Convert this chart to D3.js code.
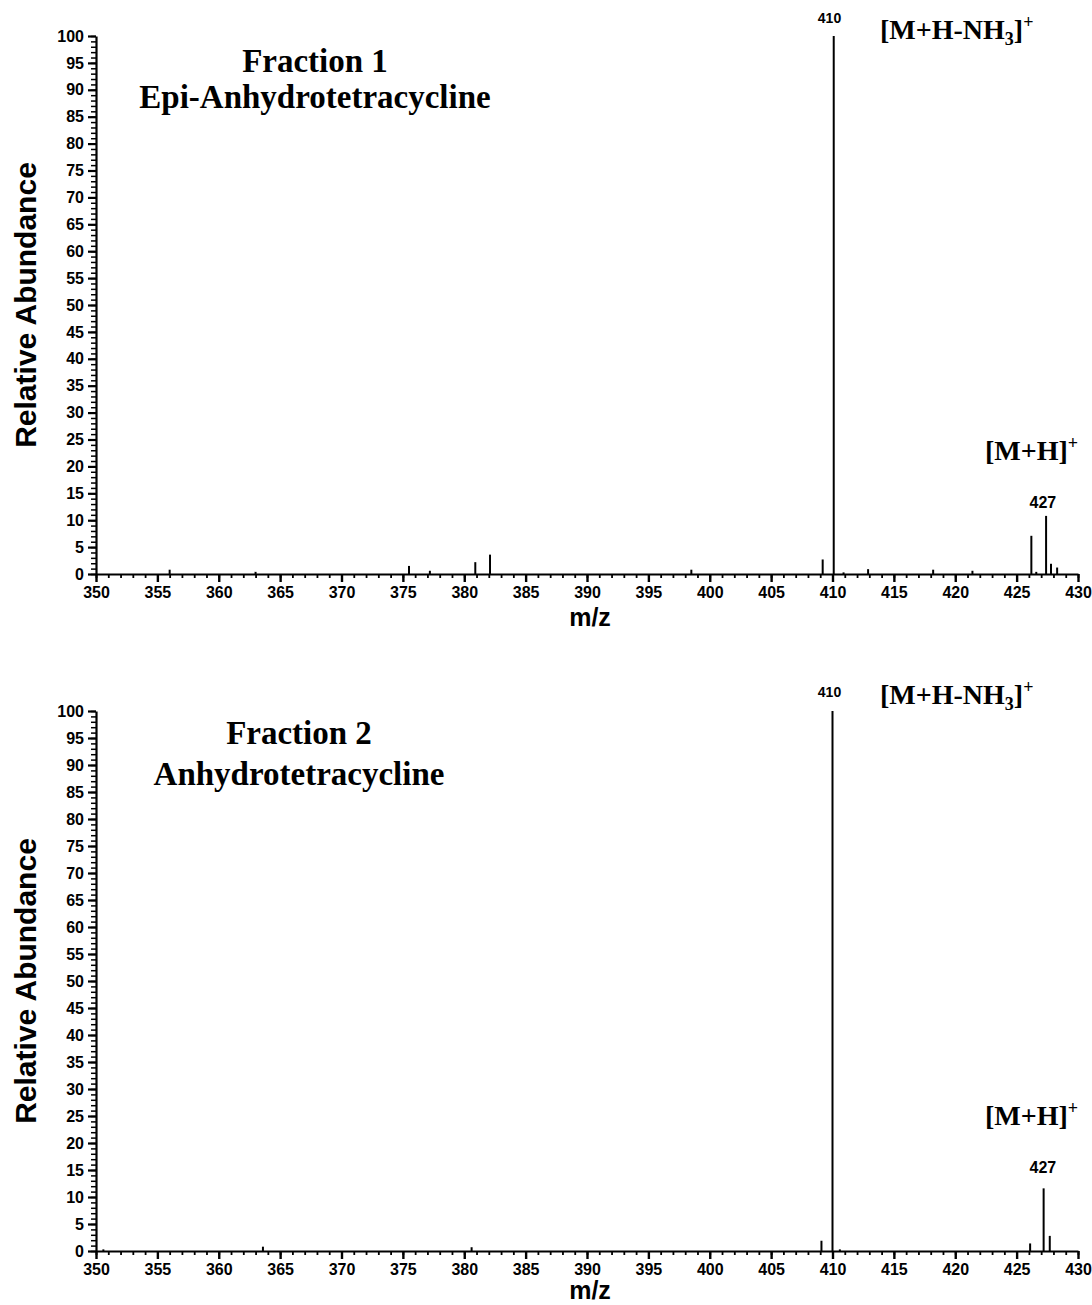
<html>
<head>
    <style>
        body {
            margin: 0;
            background: white;
        }
        .tick text {
            font-family: "Liberation Sans", Arial, sans-serif;
            font-weight: bold;
            font-size: 16px;
        }
        .axis path, .axis line {
            stroke: black;
        }
        .serif {
            font-family: "Liberation Serif", "Times New Roman", serif;
            font-weight: bold;
        }
        .sans {
            font-family: "Liberation Sans", Arial, sans-serif;
            font-weight: bold;
        }
    </style>
    <script src="https://cdn.jsdelivr.net/npm/d3@7"></script>
</head>
<body>
    <div class="mainView"></div>
</body>
<script>
    // peaks
    let frac1Mz    = [356.0, 363.0, 375.5, 377.2, 380.9, 382.1, 398.5, 409.2, 410.1, 410.9, 412.9, 418.2, 421.4, 426.2, 426.6, 427.4, 427.8, 428.3];
    let frac1Abund = [0.8,   0.4,   1.5,   0.6,   2.2,   3.6,   0.8,   2.7,   100,   0.3,   0.9,   0.8,   0.6,   7.1,   0.4,   10.8,  1.9,   1.2];

    let frac2Mz    = [350.6, 363.6, 380.6, 409.1, 410.0, 410.6, 426.1, 427.2, 427.7];
    let frac2Abund = [0.3,   0.8,   0.7,   1.9,   100,   0.3,   1.4,   11.6,  2.8];

    let xTicks = d3.range(350, 431, 5);
    let yTicks = d3.range(0, 101, 5);
    let xMinor = d3.range(350, 431, 1);
    let yMinor = d3.range(0, 101, 1);

    let titles1 = ["Fraction 1", "Epi-Anhydrotetracycline"];
    let titles2 = ["Fraction 2", "Anhydrotetracycline"];

    let width = 1092;
    let height = 1305;

    let svg = d3.select(".mainView")
        .append("svg")
        .attr("width", width)
        .attr("height", height);

    let xScale = d3.scaleLinear().domain([350, 430]).range([96, 1078]);

    function drawPanel(cfg) {
        let { mz, abund, top, bottom, titles, titleY, labels } = cfg;
        let yScale = d3.scaleLinear().domain([0, 100]).range([bottom, top]);
        let g = svg.append("g");

        // minor ticks first
        g.append("g")
            .attr("class", "axis")
            .attr("transform", "translate(0," + bottom + ")")
            .call(d3.axisBottom(xScale).tickValues(xMinor).tickSize(4).tickFormat(""))
            .call(a => a.select(".domain").remove())
            .selectAll("line").attr("stroke-width", 1.8);
        g.append("g")
            .attr("class", "axis")
            .attr("transform", "translate(" + xScale(350) + ",0)")
            .call(d3.axisLeft(yScale).tickValues(yMinor).tickSize(5).tickFormat(""))
            .call(a => a.select(".domain").remove())
            .selectAll("line").attr("stroke-width", 1.5);

        let xAxis = g.append("g")
            .attr("class", "axis")
            .attr("transform", "translate(0," + bottom + ")")
            .call(d3.axisBottom(xScale).tickValues(xTicks).tickSize(8).tickPadding(5).tickSizeOuter(0));
        xAxis.select(".domain").attr("stroke-width", 2.2);
        xAxis.selectAll(".tick line").attr("stroke-width", 2.4);

        let yAxis = g.append("g")
            .attr("class", "axis")
            .attr("transform", "translate(" + xScale(350) + ",0)")
            .call(d3.axisLeft(yScale).tickValues(yTicks).tickSize(8).tickPadding(4).tickSizeOuter(0));
        yAxis.select(".domain").attr("stroke-width", 2.2);
        yAxis.selectAll(".tick line").attr("stroke-width", 2.2);

        // sticks
        let peaks = mz.map((m, i) => ({ mz: m, ab: abund[i] }));
        g.selectAll(".peak")
            .data(peaks)
            .enter()
            .append("line")
            .attr("class", "peak")
            .attr("x1", d => xScale(d.mz))
            .attr("x2", d => xScale(d.mz))
            .attr("y1", yScale(0))
            .attr("y2", d => yScale(d.ab))
            .attr("stroke", "black")
            .attr("stroke-width", 2);

        // titles
        titles.forEach((t, i) => {
            g.append("text")
                .attr("class", "serif")
                .attr("x", cfg.titleX)
                .attr("y", titleY[i])
                .attr("text-anchor", "middle")
                .style("font-size", "33px")
                .text(t);
        });

        // axis titles
        g.append("text")
            .attr("class", "sans")
            .attr("transform", "translate(36," + (top + bottom) / 2 + ") rotate(-90)")
            .attr("text-anchor", "middle")
            .style("font-size", "30px")
            .text("Relative Abundance");
        g.append("text")
            .attr("class", "sans")
            .attr("x", 590)
            .attr("y", labels.yMz)
            .attr("text-anchor", "middle")
            .style("font-size", "25px")
            .text("m/z");

        // peak labels
        g.append("text")
            .attr("class", "sans")
            .attr("x", xScale(410) - 3)
            .attr("y", labels.y410)
            .attr("text-anchor", "middle")
            .style("font-size", "14px")
            .text("410");
        g.append("text")
            .attr("class", "sans")
            .attr("x", xScale(427.3) - 2)
            .attr("y", labels.y427)
            .attr("text-anchor", "middle")
            .style("font-size", "16px")
            .text("427");

        let ion1 = g.append("text")
            .attr("class", "serif")
            .attr("x", 880)
            .attr("y", labels.yIon1)
            .style("font-size", "28px");
        ion1.append("tspan").text("[M+H-NH");
        ion1.append("tspan").attr("dy", 6).style("font-size", "18px").text("3");
        ion1.append("tspan").attr("dy", -6).text("]");
        ion1.append("tspan").attr("dy", -11).style("font-size", "18px").text("+");

        let ion2 = g.append("text")
            .attr("class", "serif")
            .attr("x", 985)
            .attr("y", labels.yIon2)
            .style("font-size", "28px");
        ion2.append("tspan").text("[M+H]");
        ion2.append("tspan").attr("dy", -11).style("font-size", "18px").text("+");
    }

    drawPanel({
        mz: frac1Mz, abund: frac1Abund, top: 36, bottom: 574,
        titles: titles1, titleX: 315, titleY: [72, 108],
        labels: { y410: 23, y427: 508, yIon1: 39, yIon2: 460, yMz: 626 }
    });
    drawPanel({
        mz: frac2Mz, abund: frac2Abund, top: 711, bottom: 1251,
        titles: titles2, titleX: 299, titleY: [744, 785],
        labels: { y410: 697, y427: 1173, yIon1: 704, yIon2: 1125, yMz: 1299 }
    });
</script>
</html>
